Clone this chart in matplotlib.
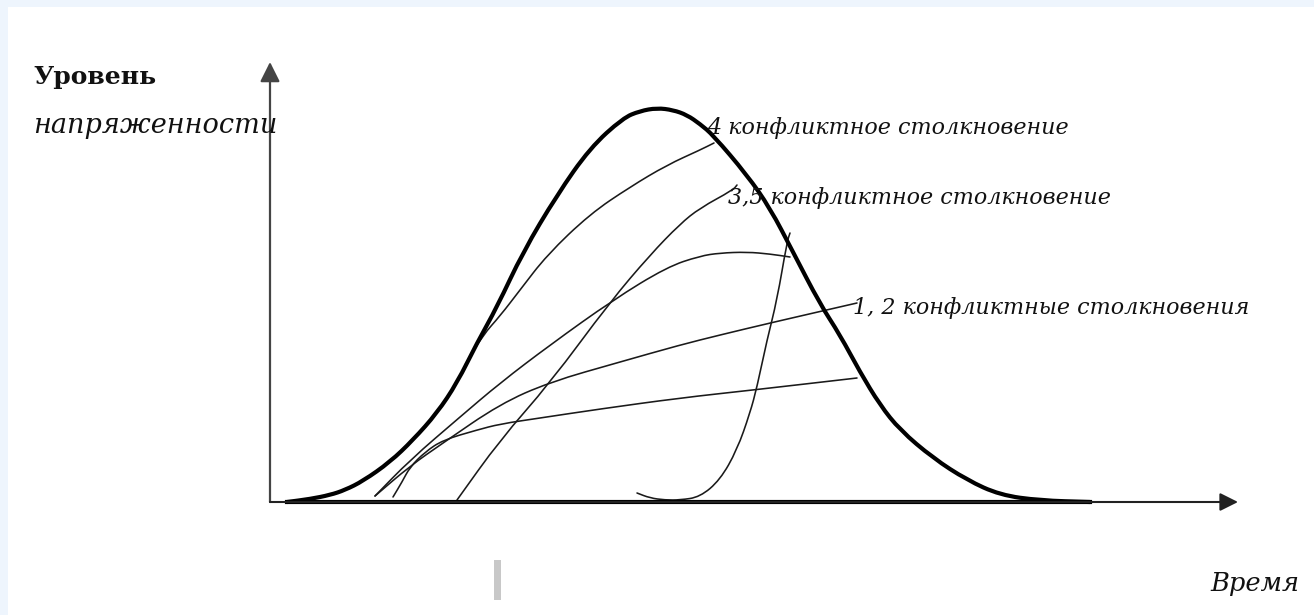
import matplotlib
matplotlib.use("Agg")
import matplotlib.pyplot as plt
from matplotlib.patches import Rectangle, PathPatch
from matplotlib.path import Path

# ---- data (time, level) ----
bold_t = [1.7, 4.0, 6.0, 7.5, 9.3, 12.0, 14.3, 16.7, 18.7, 20.7, 22.7, 25.3, 28.7, 32.0,
          35.3, 37.0, 38.7, 40.3, 41.7, 43.0, 44.3, 47.7, 50.0, 52.3, 55.0, 57.0, 59.0,
          61.0, 63.0, 66.3, 69.7, 73.0, 77.0, 82.0]
bold_y = [0.0, 0.3, 0.7, 1.2, 2.1, 4.0, 6.2, 8.9, 11.9, 15.9, 19.5, 25.0, 30.7, 35.4,
          38.4, 39.1, 39.4, 39.2, 38.7, 37.8, 36.7, 32.7, 29.4, 25.0, 19.8, 16.7, 13.0,
          9.7, 7.2, 4.4, 2.2, 0.7, 0.15, 0.0]

line4_t = [19.5, 21.3, 23.0, 25.0, 27.7, 32.0, 36.0, 39.7, 43.0, 44.4]
line4_y = [13.7, 16.7, 18.6, 21.2, 24.7, 28.8, 31.5, 33.7, 35.2, 35.9]

line35_t = [18.7, 23.0, 28.0, 34.0, 38.0, 41.0, 43.0, 46.3, 46.7]
line35_y = [0.2, 6.2, 11.9, 20.0, 24.7, 27.8, 29.4, 31.2, 31.7]

arc_t = [10.5, 14.0, 19.0, 23.0, 28.0, 34.3, 39.7, 43.0, 45.0, 47.7, 50.0, 52.0]
arc_y = [0.6, 4.2, 8.5, 11.9, 15.7, 20.2, 23.5, 24.6, 24.9, 25.0, 24.8, 24.5]

line12_t = [10.5, 14.0, 17.3, 23.0, 28.0, 35.0, 41.0, 45.0, 50.0, 58.7]
line12_y = [0.6, 3.6, 5.9, 9.8, 12.0, 14.0, 15.7, 16.7, 17.9, 19.9]

low_t = [12.3, 13.2, 14.0, 15.5, 17.3, 20.7, 23.0, 27.0, 33.0, 41.0, 48.3, 58.7]
low_y = [0.5, 2.0, 3.5, 5.0, 6.2, 7.2, 7.8, 8.4, 9.3, 10.4, 11.2, 12.4]

steep_t = [36.7, 38.0, 39.5, 41.0, 43.0, 45.0, 46.7, 48.0, 48.7, 49.7, 50.7, 51.7, 52.0]
steep_y = [0.9, 0.4, 0.2, 0.2, 0.5, 2.2, 5.2, 8.9, 11.5, 16.2, 20.2, 26.0, 26.9]

labels = ["4 конфликтное столкновение",
          "3,5 конфликтное столкновение",
          "1, 2 конфликтные столкновения"]
label_t = [43.7, 45.8, 58.3]
label_y = [37.4, 30.4, 19.4]

y_title_1 = "Уровень"
y_title_2 = "напряженности"
x_title = "Время"


def smooth_patch(xs, ys, **kw):
    """Quadratic-Bezier path through the midpoints, using the read points as controls."""
    pts = list(zip(xs, ys))
    verts = [pts[0]]
    codes = [Path.MOVETO]
    if len(pts) > 2:
        m0 = ((pts[0][0] + pts[1][0]) / 2, (pts[0][1] + pts[1][1]) / 2)
        verts.append(m0)
        codes.append(Path.LINETO)
        for i in range(1, len(pts) - 1):
            mid = ((pts[i][0] + pts[i + 1][0]) / 2, (pts[i][1] + pts[i + 1][1]) / 2)
            verts += [pts[i], mid]
            codes += [Path.CURVE3, Path.CURVE3]
    verts.append(pts[-1])
    codes.append(Path.LINETO)
    return PathPatch(Path(verts, codes), fill=False, **kw)


# ---- figure ----
W, H = 1314, 615
fig = plt.figure(figsize=(W / 100, H / 100), dpi=100)
fig.patch.set_facecolor("#eef5fd")
fig.patches.append(Rectangle((8 / W, 0), 1, 1 - 7 / H, transform=fig.transFigure,
                             facecolor="white", edgecolor="none", zorder=-10))

ax = fig.add_axes([0, 0, 1, 1])
ax.set_xlim(-27.0, 104.4)
ax.set_ylim(-11.3, 50.2)
ax.set_axis_off()
ax.patch.set_alpha(0)

# axes with arrows
ax.annotate("", xy=(0, 44.0), xytext=(0, 0),
            arrowprops=dict(arrowstyle="-|>,head_length=1.2,head_width=0.6",
                            mutation_scale=10, color="#444", lw=1.6,
                            shrinkA=0, shrinkB=0))
ax.annotate("", xy=(96.8, 0), xytext=(0, 0),
            arrowprops=dict(arrowstyle="-|>,head_length=1.1,head_width=0.55",
                            mutation_scale=10, color="#222", lw=1.5,
                            shrinkA=0, shrinkB=0))

for tt, yy in [(line4_t, line4_y), (line35_t, line35_y), (arc_t, arc_y),
               (line12_t, line12_y), (low_t, low_y), (steep_t, steep_y)]:
    ax.add_patch(smooth_patch(tt, yy, edgecolor="#1a1a1a", lw=1.15,
                              capstyle="round", joinstyle="round"))

ax.add_patch(smooth_patch(bold_t, bold_y, edgecolor="black", lw=3.0,
                          capstyle="round", joinstyle="round"))
ax.plot([bold_t[0], bold_t[-1]], [0, 0], color="black", lw=3.0)

lab_font = dict(family="DejaVu Serif", style="italic", fontsize=16, color="#111")
for s, tx, ty in zip(labels, label_t, label_y):
    ax.text(tx, ty, s, ha="left", va="center", **lab_font)

ax.text(-23.7, 42.5, y_title_1, ha="left", va="center", family="DejaVu Serif",
        weight="bold", fontsize=18, color="#111")
ax.text(-23.7, 37.6, y_title_2, ha="left", va="center", family="DejaVu Serif",
        style="italic", fontsize=19.5, color="#111")
ax.text(94.0, -8.1, x_title, ha="left", va="center", family="DejaVu Serif",
        style="italic", fontsize=18.5, color="#111")

# grey mark below the axis
ax.add_patch(Rectangle((22.4, -9.8), 0.7, 4.0, facecolor="#c8c8c8", edgecolor="none"))

fig.savefig("out.png", dpi=100, facecolor=fig.get_facecolor())
